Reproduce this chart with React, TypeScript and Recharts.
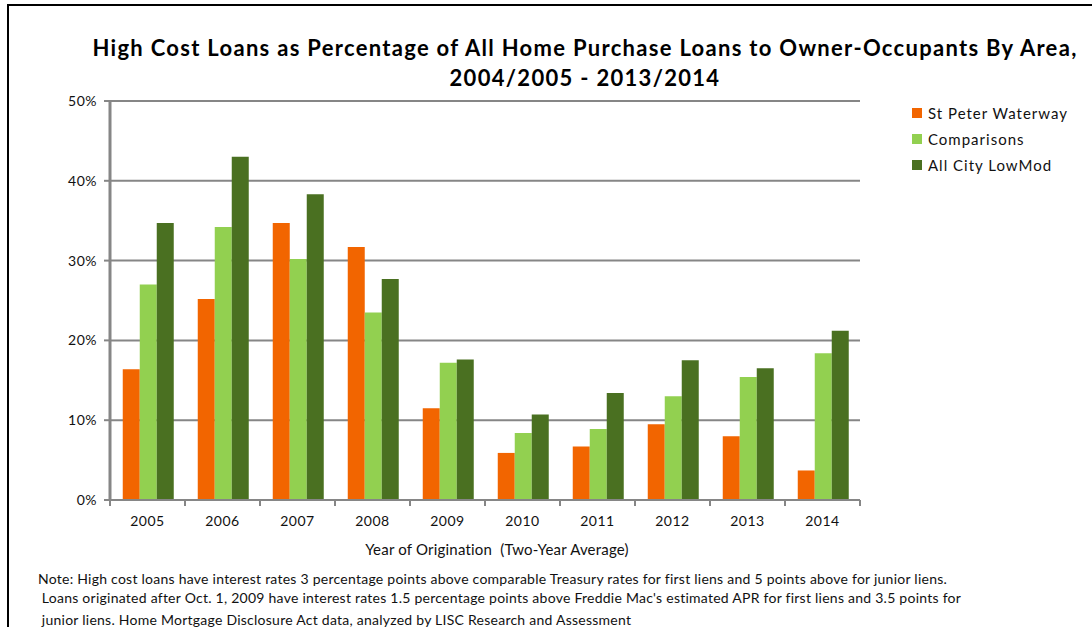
import { BarChart, Bar, XAxis, YAxis, CartesianGrid, Legend } from 'recharts';

// Year of origination (two-year average)
const years = ['2005', '2006', '2007', '2008', '2009', '2010', '2011', '2012', '2013', '2014'];
const stPeterWaterway = [16.4, 25.2, 34.7, 31.7, 11.5, 5.9, 6.7, 9.5, 8.0, 3.7];
const comparisons = [27.0, 34.2, 30.2, 23.5, 17.2, 8.4, 8.9, 13.0, 15.4, 18.4];
const allCityLowMod = [34.7, 43.0, 38.3, 27.7, 17.6, 10.7, 13.4, 17.5, 16.5, 21.2];
const yTicks = [0, 10, 20, 30, 40, 50];

const seriesNames = ['St Peter Waterway', 'Comparisons', 'All City LowMod'];
const seriesColors = ['#F26500', '#92D050', '#4A7021'];

const FONT = "Lato, 'Open Sans', sans-serif";
const GRID = '#868686';

const data = years.map((year, i) => ({
  year,
  stPeter: stPeterWaterway[i],
  comp: comparisons[i],
  city: allCityLowMod[i],
}));

const XTick = (props: any) => {
  const { x, y, payload, index, visibleTicksCount } = props;
  const half = payload && payload.offset ? payload.offset : 37.5;
  const axisY = y - 8;
  return (
    <g>
      <line x1={x - half} y1={axisY} x2={x - half} y2={axisY + 6} stroke={GRID} strokeWidth={2} />
      {index === visibleTicksCount - 1 && (
        <line x1={x + half} y1={axisY} x2={x + half} y2={axisY + 6} stroke={GRID} strokeWidth={2} />
      )}
      <text x={x} y={axisY + 26} textAnchor="middle" fontSize={14} fontFamily={FONT} fill="#111" letterSpacing={0.5}>
        {payload.value}
      </text>
    </g>
  );
};

const renderLegend = () => (
  <div style={{ fontFamily: FONT, fontSize: 15, color: '#111', letterSpacing: 1 }}>
    {seriesNames.map((name, i) => (
      <div key={name} style={{ display: 'flex', alignItems: 'center', height: 26 }}>
        <span style={{ width: 10, height: 10, background: seriesColors[i], marginRight: 6, display: 'inline-block' }} />
        <span>{name}</span>
      </div>
    ))}
  </div>
);

export default function App() {
  return (
    <div style={{ position: 'absolute', left: 0, top: 0, width: 1092, height: 627, background: '#fff', fontFamily: FONT }}>
      <div
        style={{
          position: 'absolute',
          left: 7,
          top: 4,
          width: 1085,
          height: 623,
          borderTop: '2px solid #000',
          borderLeft: '2px solid #000',
          boxSizing: 'border-box',
        }}
      />
      <div
        style={{
          position: 'absolute',
          left: 0,
          top: 33,
          width: 1170,
          textAlign: 'center',
          fontWeight: 700,
          fontSize: 22,
          letterSpacing: 1.3,
          lineHeight: '30px',
          color: '#000',
        }}
      >
        High Cost Loans as Percentage of All Home Purchase Loans to Owner-Occupants By Area,
        <br />
        2004/2005 - 2013/2014
      </div>

      <div style={{ position: 'absolute', left: 0, top: 0 }}>
        <BarChart
          width={1092}
          height={627}
          data={data}
          margin={{ top: 101, right: 232, bottom: 97, left: 60 }}
          barCategoryGap="17%"
          barGap={0}
        >
          <CartesianGrid vertical={false} stroke={GRID} strokeWidth={2} />
          <XAxis
            dataKey="year"
            height={30}
            axisLine={{ stroke: GRID, strokeWidth: 2 }}
            tickLine={false}
            tick={<XTick />}
            interval={0}
          />
          <YAxis
            width={50}
            domain={[0, 50]}
            ticks={yTicks}
            allowDataOverflow
            tickFormatter={(v: number) => `${v}%`}
            axisLine={{ stroke: GRID, strokeWidth: 3 }}
            tickLine={{ stroke: GRID, strokeWidth: 2 }}
            tickSize={6}
            tickMargin={7}
            tick={{ fontSize: 14, fontFamily: FONT, fill: '#111', letterSpacing: 0.5 }}
          />
          <YAxis
            yAxisId="right"
            orientation="right"
            width={0}
            domain={[0, 50]}
            tick={false}
            tickLine={false}
            axisLine={{ stroke: GRID, strokeWidth: 2 }}
          />
          <Legend
            layout="vertical"
            align="center"
            verticalAlign="middle"
            wrapperStyle={{ left: 912, top: 100, width: 180 }}
            content={renderLegend}
          />
          <Bar dataKey="stPeter" name={seriesNames[0]} fill={seriesColors[0]} isAnimationActive={false} />
          <Bar dataKey="comp" name={seriesNames[1]} fill={seriesColors[1]} isAnimationActive={false} />
          <Bar dataKey="city" name={seriesNames[2]} fill={seriesColors[2]} isAnimationActive={false} />
        </BarChart>
      </div>

      <div
        style={{
          position: 'absolute',
          left: 122,
          width: 750,
          top: 540,
          textAlign: 'center',
          fontSize: 15,
          letterSpacing: 0.2,
          color: '#111',
          whiteSpace: 'pre',
        }}
      >
        {'Year of Origination  (Two-Year Average)'}
      </div>

      <div
        style={{
          position: 'absolute',
          left: 38,
          top: 569,
          fontSize: 14,
          letterSpacing: 0.25,
          color: '#111',
          lineHeight: '19px',
          whiteSpace: 'pre',
        }}
      >
        <div>Note: High cost loans have interest rates 3 percentage points above comparable Treasury rates for first liens and 5 points above for junior liens.</div>
        <div>{" Loans originated after Oct. 1, 2009 have interest rates 1.5 percentage points above Freddie Mac's estimated APR for first liens and 3.5 points for"}</div>
        <div style={{ marginTop: 3 }}> junior liens. Home Mortgage Disclosure Act data, analyzed by LISC Research and Assessment</div>
      </div>
    </div>
  );
}
